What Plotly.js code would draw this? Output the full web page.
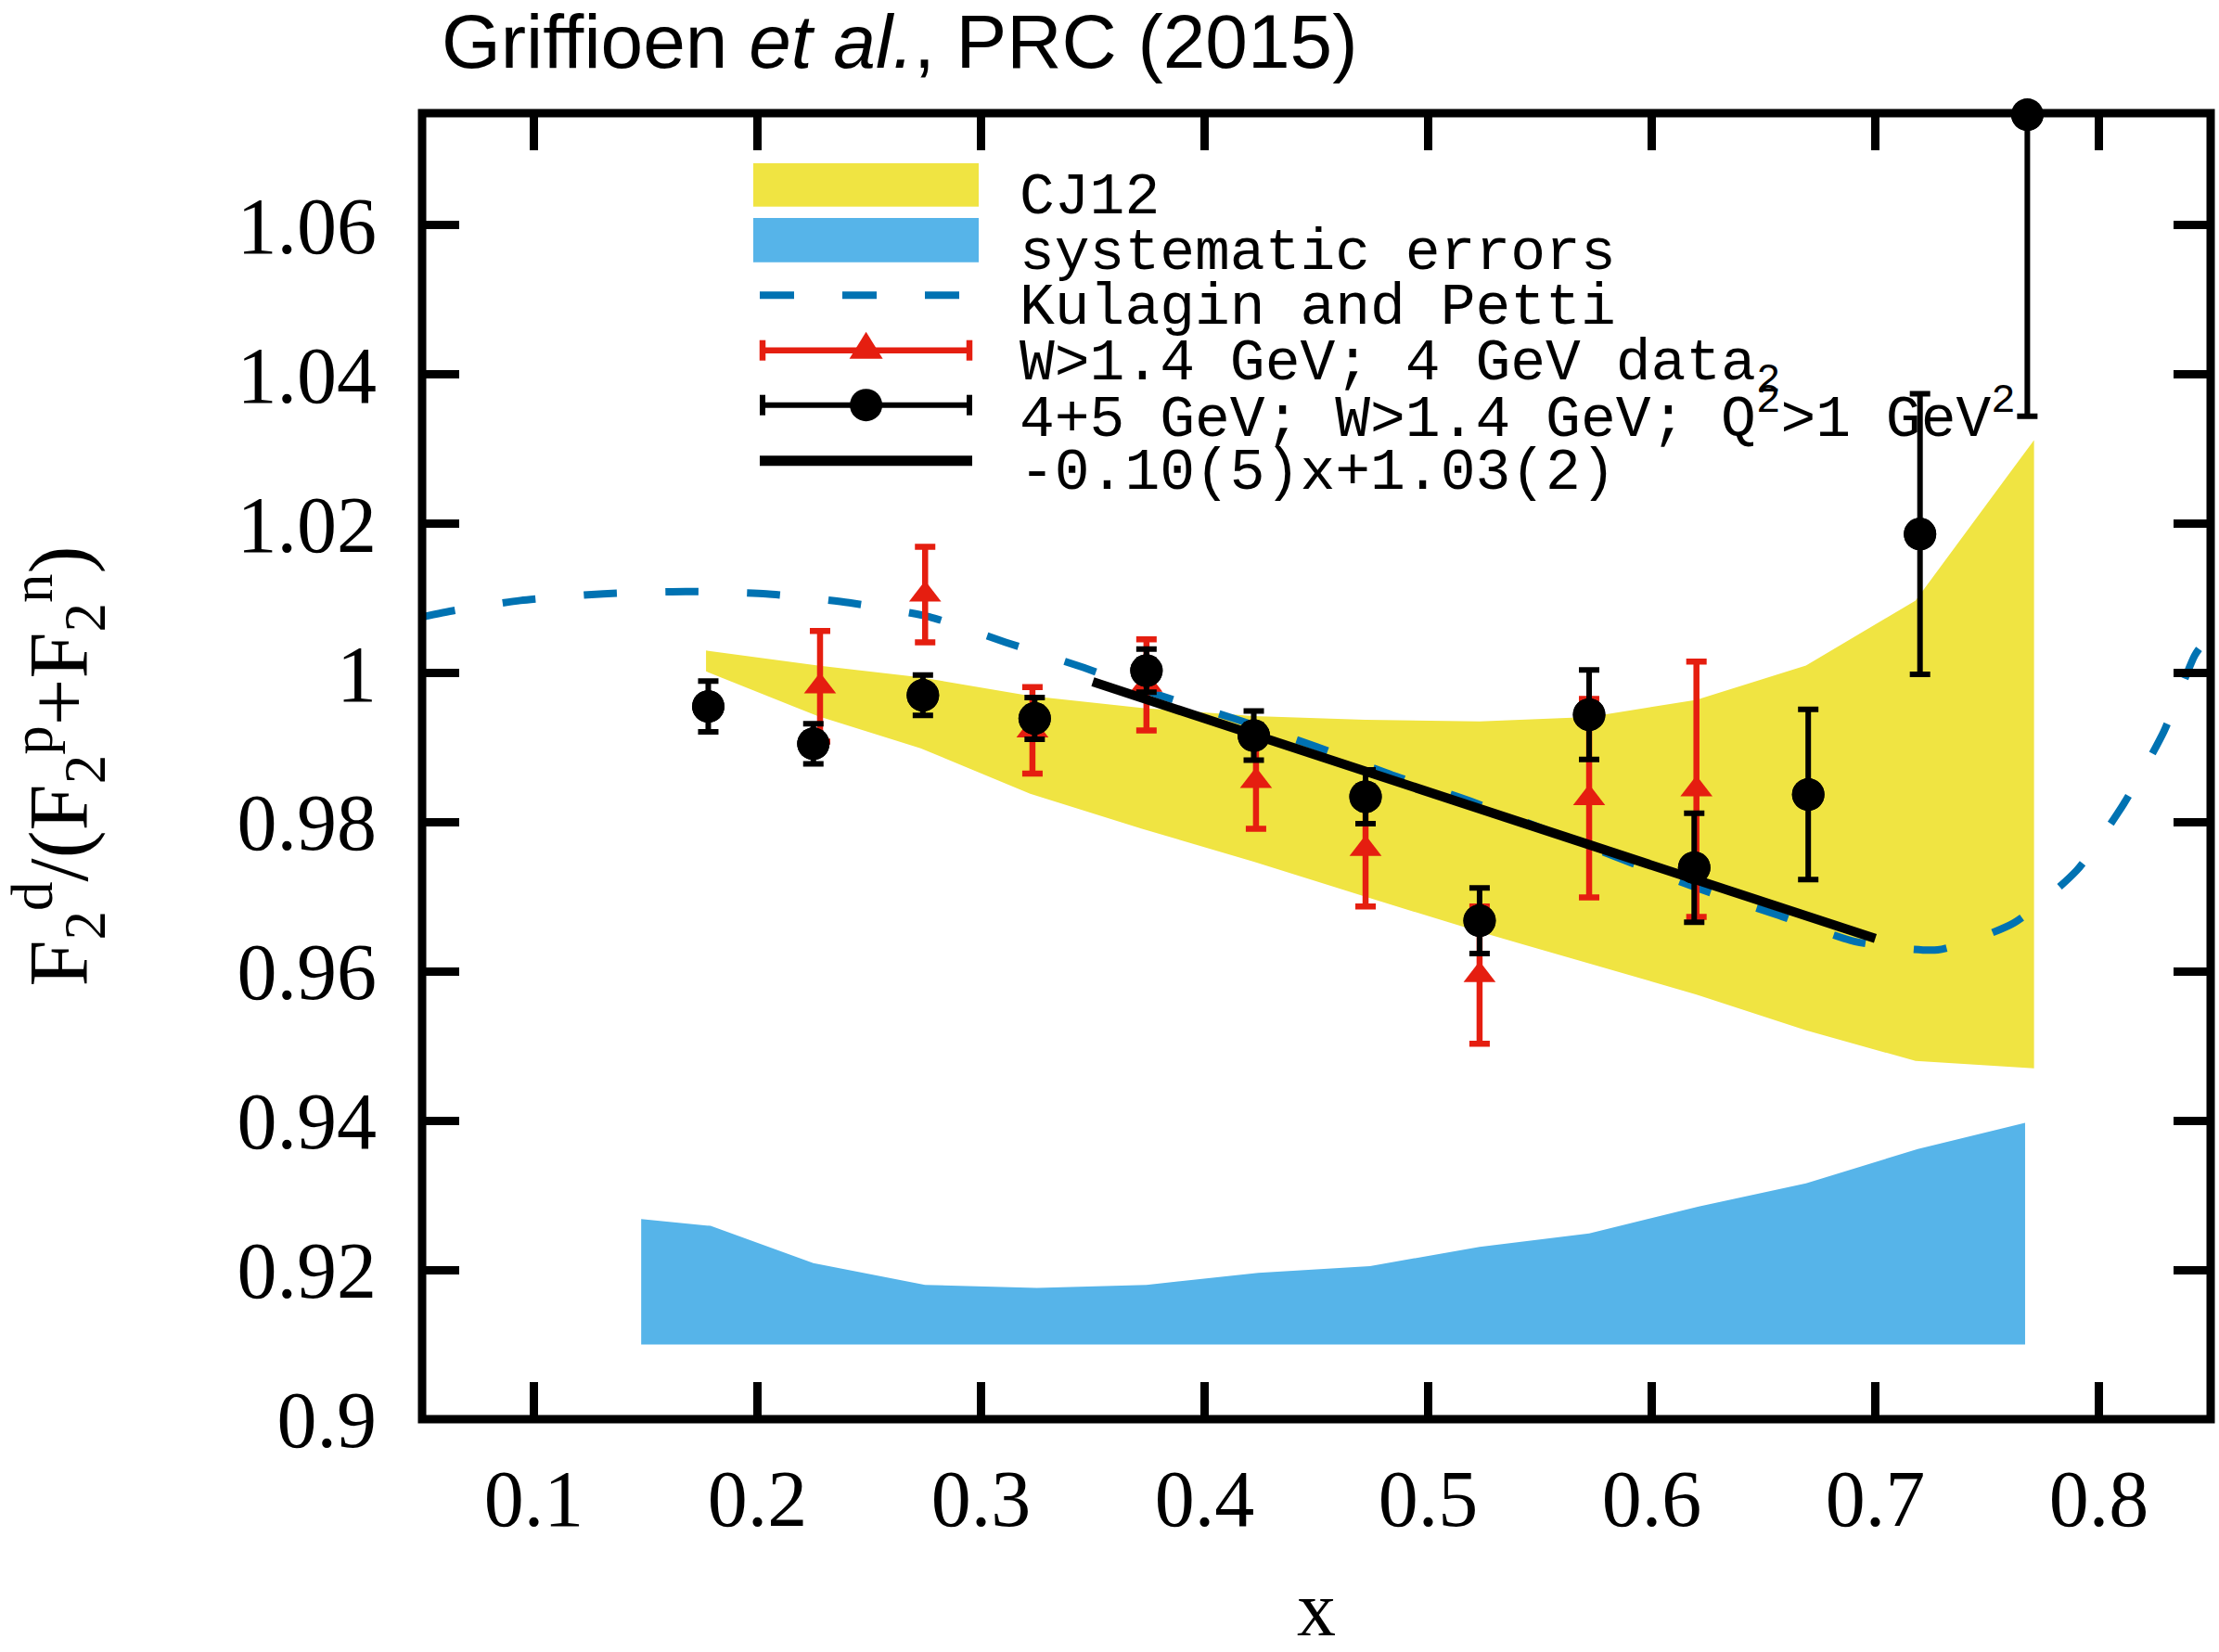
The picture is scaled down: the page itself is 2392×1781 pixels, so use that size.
<!DOCTYPE html>
<html>
<head>
<meta charset="utf-8">
<script src="https://cdn.plot.ly/plotly-3.0.1.min.js"></script>
<style>
  html, body { margin: 0; padding: 0; background: #ffffff; }
  #chart { width: 2392px; height: 1781px; }
</style>
</head>
<body>
<div id="chart"></div>
<script>
// ---- CJ12 band (upper / lower edges) ----
const cjX  = [0.177, 0.227, 0.273, 0.322, 0.372, 0.422, 0.472, 0.523, 0.572, 0.620, 0.669, 0.718, 0.771];
const cjUp = [1.0030, 1.0010, 0.9994, 0.9969, 0.9953, 0.9942, 0.9937, 0.9935, 0.9941, 0.9964, 1.0010, 1.0097, 1.0312];
const cjLo = [1.0002, 0.9942, 0.9899, 0.9838, 0.9791, 0.9747, 0.9700, 0.9653, 0.9611, 0.9569, 0.9521, 0.9480, 0.9470];

// ---- systematic errors band ----
const sysX    = [0.148, 0.179, 0.225, 0.275, 0.325, 0.374, 0.424, 0.474, 0.523, 0.572, 0.621, 0.669, 0.719, 0.767];
const sysTop  = [0.9268, 0.9259, 0.9209, 0.9180, 0.9176, 0.9180, 0.9196, 0.9205, 0.9231, 0.9249, 0.9285, 0.9316, 0.9362, 0.9397];
const sysBase = 0.910;

// ---- Kulagin and Petti curve ----
const kpX = [0.050, 0.065, 0.094, 0.131, 0.168, 0.204, 0.241, 0.277, 0.311, 0.346, 0.383, 0.413, 0.450, 0.484, 0.519,
             0.622, 0.657, 0.691, 0.728, 0.762, 0.790, 0.811, 0.829, 0.843, 0.850];
const kpY = [1.0075, 1.0084, 1.0097, 1.0106, 1.0109, 1.0106, 1.0094, 1.0075, 1.0041, 1.0007, 0.9967, 0.9939, 0.9901, 0.9863, 0.9828,
             0.9710, 0.9675, 0.9640, 0.9629, 0.9665, 0.9735, 0.9824, 0.9921, 1.0024, 1.0052];

// ---- W>1.4 GeV; 4 GeV data ----
const redX   = [0.228, 0.275, 0.323, 0.374, 0.423, 0.472, 0.523, 0.572, 0.620];
const redY   = [0.9982, 1.0105, 0.9923, 0.9984, 0.9855, 0.9764, 0.9595, 0.9832, 0.9844];
const redErr = [0.0074, 0.0064, 0.0058, 0.0061, 0.0064, 0.0077, 0.0092, 0.0133, 0.0171];

// ---- 4+5 GeV; W>1.4 GeV; Q^2>1 GeV^2 ----
const blkX   = [0.178, 0.225, 0.274, 0.324, 0.374, 0.422, 0.472, 0.523, 0.572, 0.619, 0.670, 0.720, 0.768];
const blkY   = [0.9955, 0.9905, 0.9970, 0.9939, 1.0003, 0.9916, 0.9834, 0.9668, 0.9944, 0.9739, 0.9837, 1.0186, 1.0748];
const blkErr = [0.0034, 0.0027, 0.0027, 0.0028, 0.0029, 0.0033, 0.0036, 0.0044, 0.0060, 0.0073, 0.0114, 0.0188, 0.0404];

// ---- linear fit -0.10(5)x+1.03(2), drawn over its fitted range ----
const fitX = [0.350, 0.700];
const fitY = [0.9988, 0.9644];

// ---- axis ticks ----
const xTicks = [0.1, 0.2, 0.3, 0.4, 0.5, 0.6, 0.7, 0.8];
const xTickText = ['0.1', '0.2', '0.3', '0.4', '0.5', '0.6', '0.7', '0.8'];
const yTicks = [0.90, 0.92, 0.94, 0.96, 0.98, 1.00, 1.02, 1.04, 1.06];
const yTickText = ['0.9', '0.92', '0.94', '0.96', '0.98', '1', '1.02', '1.04', '1.06'];

// ---- legend entries ----
const legendLabels = [
  'CJ12',
  'systematic errors',
  'Kulagin and Petti',
  'W>1.4 GeV; 4 GeV data<sub>2</sub>',
  '4+5 GeV; W>1.4 GeV; Q<sup>2</sup>>1 GeV<sup>2</sup>',
  '-0.10(5)x+1.03(2)'
];

const C_YELLOW = '#f0e442', C_SKY = '#56b4e9', C_BLUE = '#0072b2', C_RED = '#e51e10', C_BLACK = '#000000';

// page geometry (px) of the plotting area
const W = 2392, H = 1781;
const M = { l: 455, r: 9, t: 122, b: 251 };
const PW = W - M.l - M.r, PH = H - M.t - M.b;
const px = X => (X - M.l) / PW;          // page x px -> paper
const py = Y => (H - M.b - Y) / PH;      // page y px -> paper

const traces = [
  { // CJ12 band
    x: cjX.concat(cjX.slice().reverse()),
    y: cjUp.concat(cjLo.slice().reverse()),
    mode: 'lines', fill: 'toself', fillcolor: C_YELLOW,
    line: { width: 0, color: C_YELLOW }, hoverinfo: 'skip', showlegend: false
  },
  { // systematic errors band
    x: sysX.concat([sysX[sysX.length - 1], sysX[0]]),
    y: sysTop.concat([sysBase, sysBase]),
    mode: 'lines', fill: 'toself', fillcolor: C_SKY,
    line: { width: 0, color: C_SKY }, hoverinfo: 'skip', showlegend: false
  },
  { // Kulagin and Petti
    x: kpX, y: kpY, mode: 'lines',
    line: { color: C_BLUE, width: 8, dash: '36px,52px', shape: 'spline', smoothing: 0.6 },
    showlegend: false
  },
  { // 4 GeV data
    x: redX, y: redY, mode: 'markers',
    marker: { symbol: 'triangle-up', size: 30, color: C_RED, line: { width: 0 } },
    error_y: { type: 'data', array: redErr, visible: true, color: C_RED, thickness: 6.5, width: 11 },
    showlegend: false
  },
  { // fit
    x: fitX, y: fitY, mode: 'lines',
    line: { color: C_BLACK, width: 10 }, showlegend: false
  },
  { // 4+5 GeV data: error bars (clipped to the frame)
    x: blkX, y: blkY, mode: 'markers',
    marker: { symbol: 'circle', size: 35, color: C_BLACK, line: { width: 0 } },
    error_y: { type: 'data', array: blkErr, visible: true, color: C_BLACK, thickness: 6, width: 11 },
    showlegend: false
  },
  { // 4+5 GeV data: points drawn unclipped
    x: blkX, y: blkY, mode: 'markers', cliponaxis: false,
    marker: { symbol: 'circle', size: 35, color: C_BLACK, line: { width: 0 } },
    showlegend: false
  }
];

// ---- hand-built legend key ----
const kx0 = 819, kx1 = 1048, kxm = 933.6;
const rowY = [199.5, 259, 318.3, 377.7, 436.7, 496.7];
const shapes = [
  { type: 'rect', xref: 'paper', yref: 'paper', x0: px(812), x1: px(1055), y0: py(222.7), y1: py(176),
    fillcolor: C_YELLOW, line: { width: 0 }, layer: 'above' },
  { type: 'rect', xref: 'paper', yref: 'paper', x0: px(812), x1: px(1055), y0: py(282.7), y1: py(235),
    fillcolor: C_SKY, line: { width: 0 }, layer: 'above' },
  { type: 'line', xref: 'paper', yref: 'paper', x0: px(kx0), x1: px(kx1), y0: py(rowY[2]), y1: py(rowY[2]),
    line: { color: C_BLUE, width: 8, dash: '37px,52px' }, layer: 'above' },
  // red key
  { type: 'line', xref: 'paper', yref: 'paper', x0: px(kx0), x1: px(kx1), y0: py(rowY[3]), y1: py(rowY[3]),
    line: { color: C_RED, width: 6.5 }, layer: 'above' },
  { type: 'line', xref: 'paper', yref: 'paper', x0: px(kx0 + 3), x1: px(kx0 + 3), y0: py(rowY[3] - 11), y1: py(rowY[3] + 11),
    line: { color: C_RED, width: 6.5 }, layer: 'above' },
  { type: 'line', xref: 'paper', yref: 'paper', x0: px(kx1 - 3), x1: px(kx1 - 3), y0: py(rowY[3] - 11), y1: py(rowY[3] + 11),
    line: { color: C_RED, width: 6.5 }, layer: 'above' },
  { type: 'path', xref: 'paper', yref: 'paper',
    path: 'M' + px(kxm - 18) + ',' + py(rowY[3] + 9) + ' L' + px(kxm + 18) + ',' + py(rowY[3] + 9) +
          ' L' + px(kxm) + ',' + py(rowY[3] - 20) + ' Z',
    fillcolor: C_RED, line: { width: 0 }, layer: 'above' },
  // black key
  { type: 'line', xref: 'paper', yref: 'paper', x0: px(kx0), x1: px(kx1), y0: py(rowY[4]), y1: py(rowY[4]),
    line: { color: C_BLACK, width: 6 }, layer: 'above' },
  { type: 'line', xref: 'paper', yref: 'paper', x0: px(kx0 + 3), x1: px(kx0 + 3), y0: py(rowY[4] - 11), y1: py(rowY[4] + 11),
    line: { color: C_BLACK, width: 6 }, layer: 'above' },
  { type: 'line', xref: 'paper', yref: 'paper', x0: px(kx1 - 3), x1: px(kx1 - 3), y0: py(rowY[4] - 11), y1: py(rowY[4] + 11),
    line: { color: C_BLACK, width: 6 }, layer: 'above' },
  { type: 'circle', xref: 'paper', yref: 'paper', x0: px(kxm - 17.5), x1: px(kxm + 17.5), y0: py(rowY[4] + 17.5), y1: py(rowY[4] - 17.5),
    fillcolor: C_BLACK, line: { width: 0 }, layer: 'above' },
  // fit key
  { type: 'line', xref: 'paper', yref: 'paper', x0: px(kx0), x1: px(kx1), y0: py(rowY[5]), y1: py(rowY[5]),
    line: { color: C_BLACK, width: 11 }, layer: 'above' },
  // plot frame
  { type: 'rect', xref: 'paper', yref: 'paper', x0: 0, x1: 1, y0: 0, y1: 1,
    line: { color: C_BLACK, width: 9 }, fillcolor: 'rgba(0,0,0,0)', layer: 'above' }
];

const textRowY = [214, 273, 332, 396, 448, 511];
const annotations = legendLabels.map((t, i) => ({
  text: t, xref: 'paper', yref: 'paper', x: px(1097), y: py(textRowY[i]),
  xanchor: 'left', yanchor: 'middle', showarrow: false,
  font: { family: 'Liberation Mono, Courier New, monospace', size: 63, color: C_BLACK }
}));

const layout = {
  width: W, height: H,
  margin: M,
  paper_bgcolor: '#ffffff', plot_bgcolor: '#ffffff',
  showlegend: false,
  title: {
    text: 'Griffioen <i>et al.</i>, PRC (2015)',
    font: { family: 'Liberation Sans, Arial, sans-serif', size: 82, color: C_BLACK },
    xref: 'paper', x: px(476), xanchor: 'left',
    yref: 'container', y: 1 - 44 / H, yanchor: 'middle'
  },
  xaxis: {
    range: [0.05, 0.85],
    showline: false, zeroline: false, showgrid: false,
    ticks: 'inside', ticklen: 40, tickwidth: 9, tickcolor: C_BLACK, mirror: 'ticks',
    tickvals: xTicks, ticktext: xTickText, ticklabelstandoff: 28,
    tickfont: { family: 'Liberation Serif, Times New Roman, serif', size: 86, color: C_BLACK },
    title: { text: 'x', standoff: 66,
             font: { family: 'Liberation Serif, Times New Roman, serif', size: 84, color: C_BLACK } }
  },
  yaxis: {
    range: [0.9, 1.075],
    showline: false, zeroline: false, showgrid: false,
    ticks: 'inside', ticklen: 40, tickwidth: 9, tickcolor: C_BLACK, mirror: 'ticks',
    tickvals: yTicks, ticktext: yTickText, ticklabelstandoff: 48,
    tickfont: { family: 'Liberation Serif, Times New Roman, serif', size: 86, color: C_BLACK },
    title: { text: 'F<sub>2</sub><sup>d</sup>/(F<sub>2</sub><sup>p</sup>+F<sub>2</sub><sup>n</sup>)', standoff: 134,
             font: { family: 'Liberation Serif, Times New Roman, serif', size: 90, color: C_BLACK } }
  },
  shapes: shapes,
  annotations: annotations
};

Plotly.newPlot('chart', traces, layout, { staticPlot: true, displayModeBar: false });
</script>
</body>
</html>
